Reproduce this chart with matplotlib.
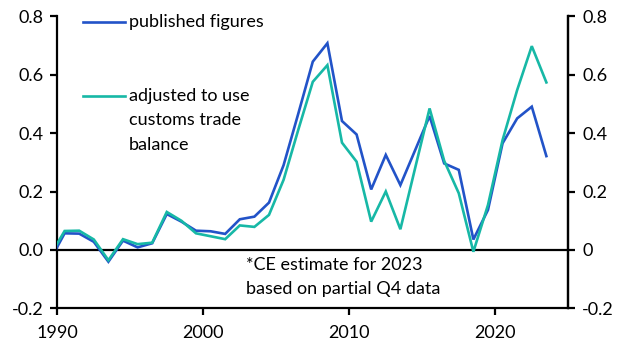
import matplotlib
matplotlib.use("Agg")
import matplotlib.pyplot as plt
from matplotlib.lines import Line2D
import numpy as np

plt.rcParams['font.family'] = ['Lato', 'DejaVu Sans']

# Annual data (plotted at mid-year); 1989 point is clipped at the 1990 axis edge
years = np.arange(1989, 2024)
published = [-0.035, 0.057, 0.056, 0.028, -0.04, 0.032, 0.009, 0.023, 0.123, 0.097,
             0.066, 0.064, 0.055, 0.105, 0.114, 0.162, 0.29, 0.465, 0.644, 0.707,
             0.441, 0.395, 0.207, 0.325, 0.222, 0.34, 0.458, 0.296, 0.274, 0.036,
             0.137, 0.365, 0.45, 0.49, 0.321]
adjusted = [-0.02, 0.065, 0.066, 0.036, -0.035, 0.037, 0.02, 0.025, 0.13, 0.10,
            0.057, 0.047, 0.037, 0.084, 0.079, 0.12, 0.24, 0.41, 0.575, 0.632,
            0.367, 0.302, 0.097, 0.2, 0.071, 0.278, 0.484, 0.305, 0.194, -0.006,
            0.154, 0.376, 0.547, 0.697, 0.573]

xticks = [1990, 2000, 2010, 2020]
yticks = [-0.2, 0.0, 0.2, 0.4, 0.6, 0.8]
left_labels = ['-0.2', '0.0', '0.2', '0.4', '0.6', '0.8']
right_labels = ['-0.2', '0', '0.2', '0.4', '0.6', '0.8']

legend_labels = ['published figures', ['adjusted to use', 'customs trade', 'balance']]
note_lines = ['*CE estimate for 2023', 'based on partial Q4 data']

blue = '#2253c8'
teal = '#17b8a6'
FS = 13

fig = plt.figure(figsize=(6.31, 3.64), dpi=100)
ax = fig.add_axes([0.0908, 0.1525, 0.8098, 0.8035])

x = years + 0.5
ax.plot(x, published, color=blue, lw=1.9, solid_joinstyle='miter', zorder=3)
ax.plot(x, adjusted, color=teal, lw=1.9, solid_joinstyle='miter', zorder=3)
ax.axhline(0, color='black', lw=1.6, zorder=2)

ax.set_xlim(1990, 2025)
ax.set_ylim(-0.2, 0.8)
ax.set_xticks(xticks)
ax.set_xticklabels([str(t) for t in xticks])
ax.set_yticks(yticks)
ax.set_yticklabels(left_labels)

for s in ['left', 'right', 'bottom']:
    ax.spines[s].set_linewidth(1.6)
    ax.spines[s].set_color('black')
ax.spines['top'].set_visible(False)
ax.tick_params(axis='y', direction='out', length=5, width=1.6,
               labelsize=FS, colors='black', pad=5)
ax.tick_params(axis='x', direction='out', length=5, width=1.6,
               labelsize=FS, colors='black', pad=7)

ax2 = ax.twinx()
ax2.set_ylim(-0.2, 0.8)
ax2.set_yticks(yticks)
ax2.set_yticklabels(right_labels)
for s in ['left', 'top', 'bottom']:
    ax2.spines[s].set_visible(False)
ax2.spines['right'].set_linewidth(1.6)
ax2.tick_params(axis='y', direction='out', length=5, width=1.6,
                labelsize=FS, colors='black', pad=5)

# Legend drawn manually
W, H = 631, 364
def fx(px):
    return px / W
def fy(py):
    return 1 - py / H

fig.add_artist(Line2D([fx(83), fx(125)], [fy(22), fy(22)], color=blue, lw=1.9))
fig.add_artist(Line2D([fx(83), fx(125)], [fy(96), fy(96)], color=teal, lw=1.9))
fig.text(fx(129), fy(22), legend_labels[0], fontsize=FS, va='center', ha='left')
for i, line in enumerate(legend_labels[1]):
    fig.text(fx(129), fy(96 + 24.5 * i), line, fontsize=FS, va='center', ha='left')

for i, line in enumerate(note_lines):
    fig.text(fx(246), fy(265 + 24 * i), line, fontsize=FS, va='center', ha='left')

fig.savefig('out.png', dpi=100)
